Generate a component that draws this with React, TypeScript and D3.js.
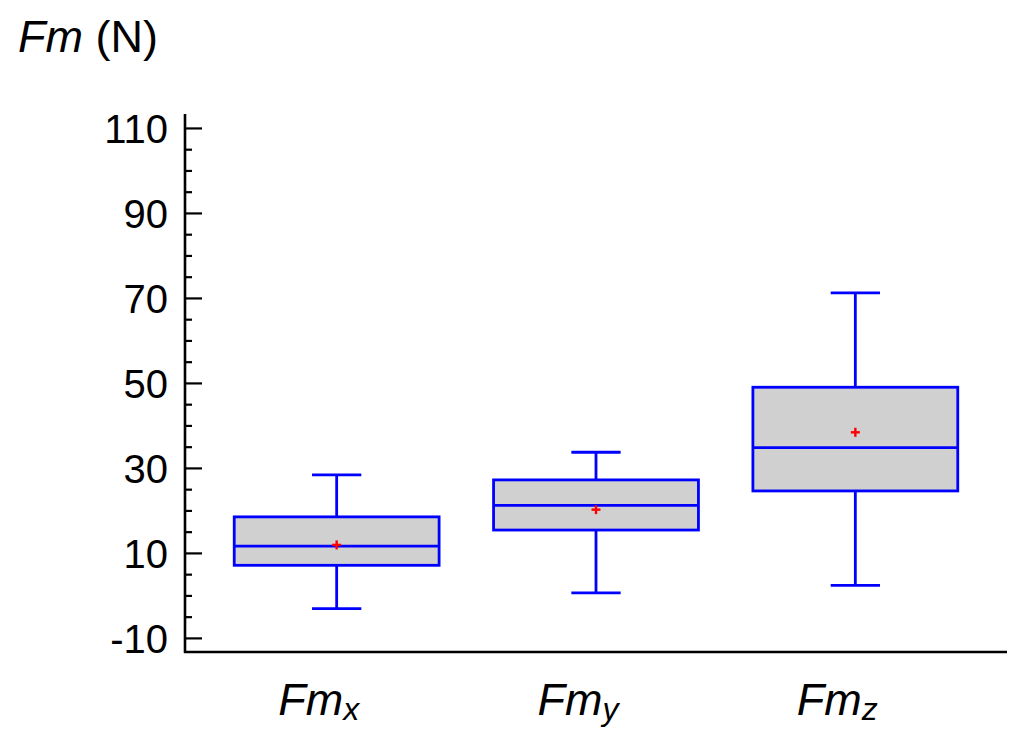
import * as d3 from 'd3';

// box plot summary
const categories = ['x', 'y', 'z'];
const whiskerLow = [-3.0, 0.7, 2.5];
const q1 = [7.2, 15.5, 24.7];
const median = [11.7, 21.3, 34.9];
const q3 = [18.6, 27.3, 49.1];
const whiskerHigh = [28.5, 33.8, 71.3];
const means = [12.0, 20.3, 38.5];

const majorTicks = [-10, 10, 30, 50, 70, 90, 110];
const minorTicks = d3.range(-10, 111, 5).filter((v) => !majorTicks.includes(v));

const width = 1024;
const height = 745;
const font = '"Liberation Sans", Arial, sans-serif';
const blue = '#0000ff';

export default function App() {
	const x = d3.scaleBand<string>().domain(categories).range([207, 985]).padding(0);
	const y = d3.scaleLinear().domain([-13.2, 113.4]).range([652, 114]);

	const boxW = x.bandwidth() * 0.79;
	const capW = x.bandwidth() * 0.19;
	const left = 185;
	const bottom = y.range()[0];
	const sw = 2.8;

	return (
		<svg
			width={width}
			height={height}
			style={{ position: 'absolute', left: 0, top: 0, background: '#fff' }}
			fontFamily={font}
		>
			{/* axis title */}
			<text x={18} y={52} fontSize={45} fill="#000">
				<tspan fontStyle="italic">Fm</tspan>
				<tspan> (N)</tspan>
			</text>

			{/* boxes */}
			{categories.map((c, i) => {
				const cx = x(c)! + x.bandwidth() / 2;
				return (
					<g key={c}>
						<line x1={cx} x2={cx} y1={y(whiskerHigh[i])} y2={y(q3[i])} stroke={blue} strokeWidth={sw} />
						<line x1={cx} x2={cx} y1={y(q1[i])} y2={y(whiskerLow[i])} stroke={blue} strokeWidth={sw} />
						<line x1={cx - capW / 2} x2={cx + capW / 2} y1={y(whiskerHigh[i])} y2={y(whiskerHigh[i])} stroke={blue} strokeWidth={sw} />
						<line x1={cx - capW / 2} x2={cx + capW / 2} y1={y(whiskerLow[i])} y2={y(whiskerLow[i])} stroke={blue} strokeWidth={sw} />
						<rect
							x={cx - boxW / 2}
							y={y(q3[i])}
							width={boxW}
							height={y(q1[i]) - y(q3[i])}
							fill="#d0d0d0"
							stroke={blue}
							strokeWidth={sw}
						/>
						<line x1={cx - boxW / 2} x2={cx + boxW / 2} y1={y(median[i])} y2={y(median[i])} stroke={blue} strokeWidth={sw} />
						<line x1={cx - 4.5} x2={cx + 4.5} y1={y(means[i])} y2={y(means[i])} stroke="#ff0000" strokeWidth={2.4} />
						<line x1={cx} x2={cx} y1={y(means[i]) - 4.5} y2={y(means[i]) + 4.5} stroke="#ff0000" strokeWidth={2.4} />
						<text x={cx - 18} y={715} fontSize={45} textAnchor="middle" fontStyle="italic" fill="#000">
							Fm
							<tspan fontSize={32} dy={5}>{c}</tspan>
						</text>
					</g>
				);
			})}

			{/* axes */}
			<line x1={left} x2={left} y1={y.range()[1]} y2={bottom + 1} stroke="#000" strokeWidth={2.6} />
			<line x1={left - 1} x2={1007} y1={bottom} y2={bottom} stroke="#000" strokeWidth={2.6} />
			{majorTicks.map((t) => (
				<g key={t}>
					<line x1={left} x2={left + 17} y1={y(t)} y2={y(t)} stroke="#000" strokeWidth={2.2} />
					<text x={168} y={y(t)} dy="0.36em" fontSize={40} textAnchor="end" fill="#000">
						{t}
					</text>
				</g>
			))}
			{minorTicks.map((t) => (
				<line key={t} x1={left} x2={left + 7} y1={y(t)} y2={y(t)} stroke="#000" strokeWidth={2.2} />
			))}
		</svg>
	);
}
